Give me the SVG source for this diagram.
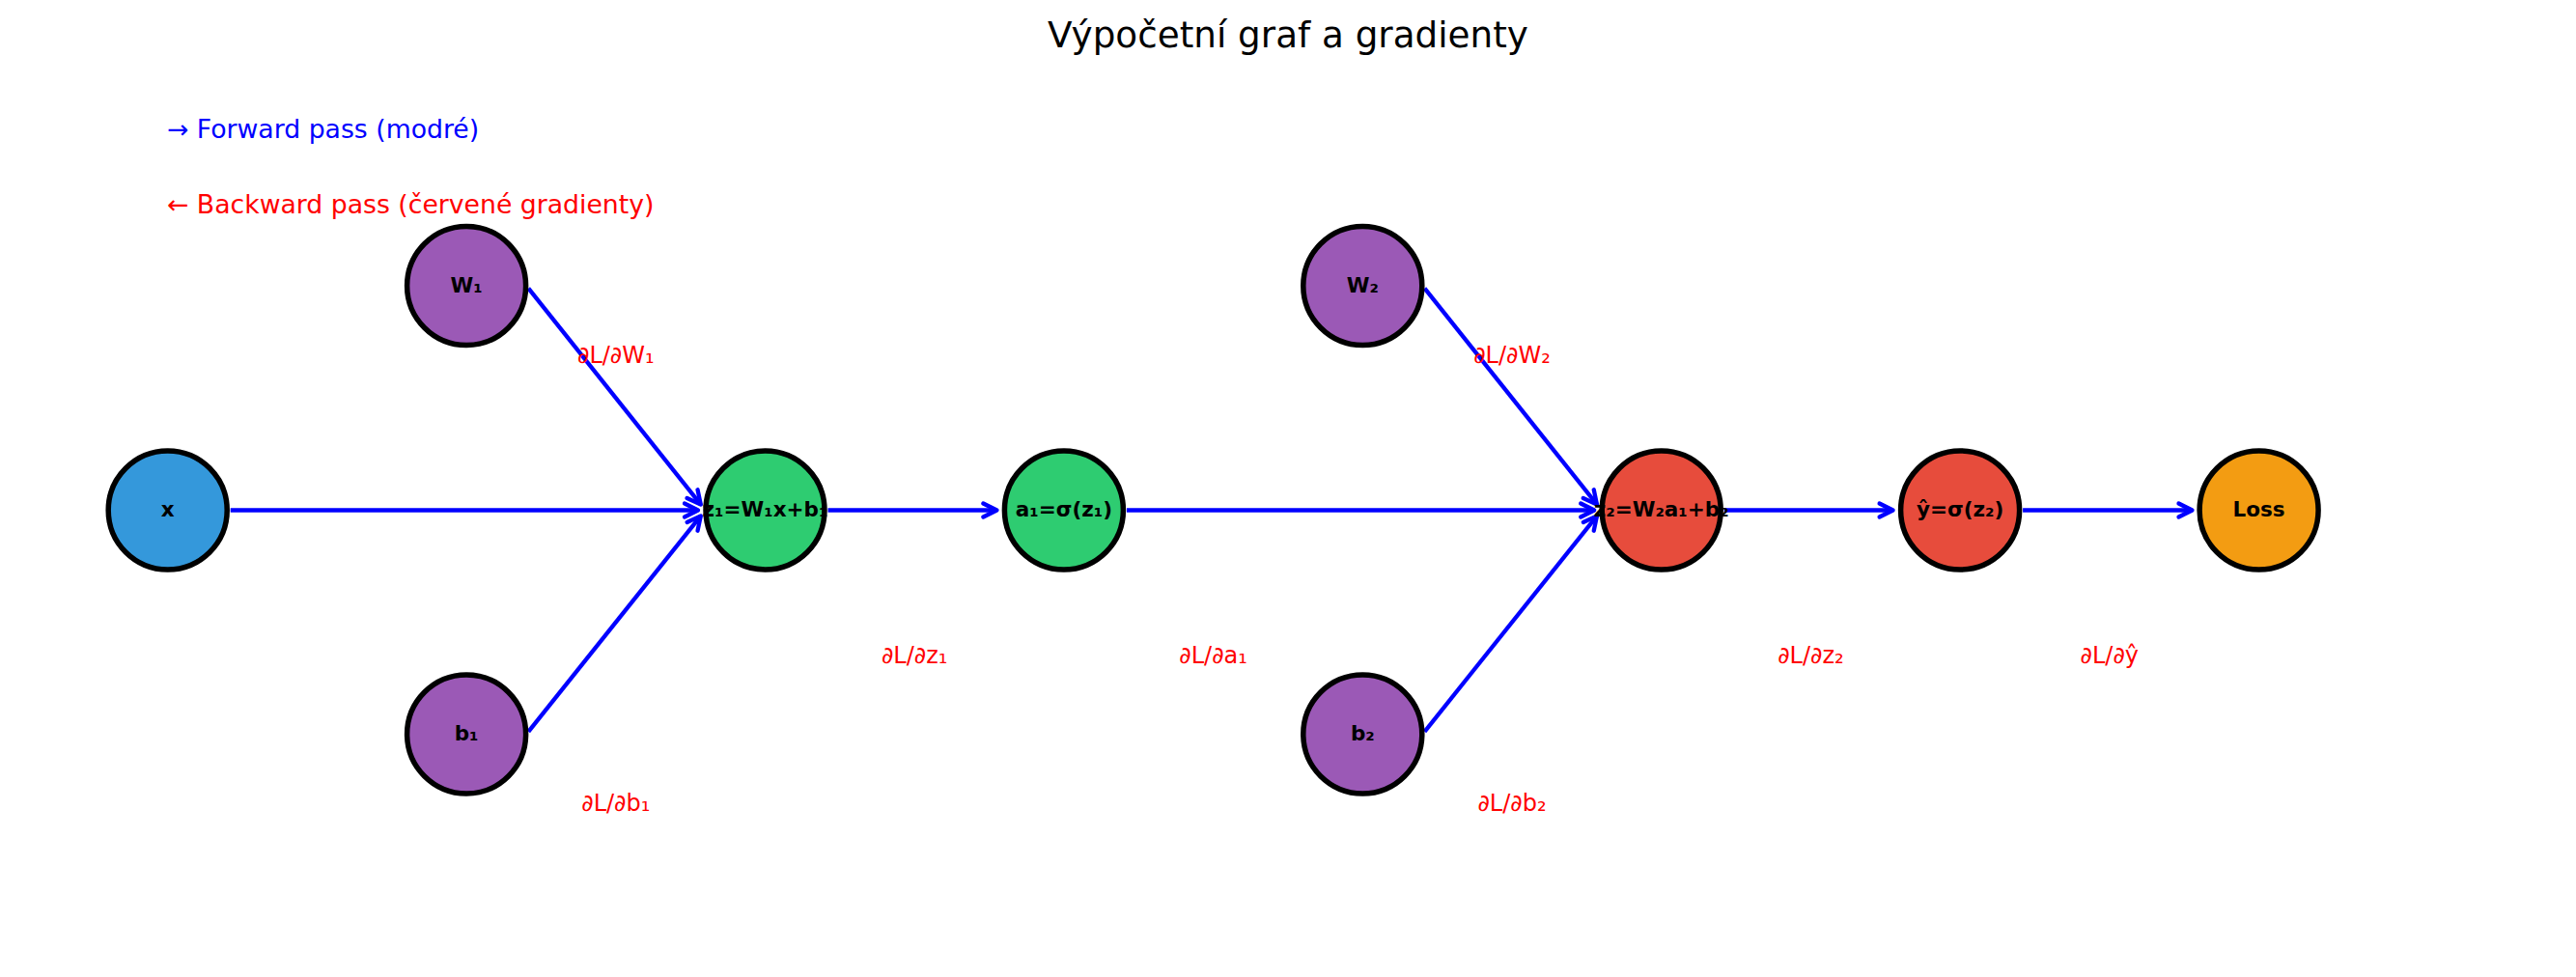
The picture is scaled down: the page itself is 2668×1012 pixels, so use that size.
<svg xmlns="http://www.w3.org/2000/svg" width="2668" height="1012" viewBox="0 0 2668 1012">
<style>
.node circle{stroke:#000;stroke-width:5.5}
.node text{font-family:"DejaVu Sans",sans-serif;font-weight:bold;font-size:21.5px;fill:#000;text-anchor:middle}
.edge{stroke:#0000ff;stroke-width:4.3;fill:none;marker-end:url(#ah)}
.grad{font-family:"DejaVu Sans",sans-serif;font-size:24px;fill:#ff0000;text-anchor:middle}
.title{font-family:"DejaVu Sans",sans-serif;font-size:37.3px;fill:#000;text-anchor:middle}
.legend{font-family:"DejaVu Sans",sans-serif;font-size:26.7px}
</style>
<defs>
<marker id="ah" markerUnits="userSpaceOnUse" orient="auto" refX="0" refY="0" markerWidth="40" markerHeight="40" viewBox="-20 -20 40 40" overflow="visible">
<path d="M-14,-7 L0,0 L-14,7" fill="none" stroke="#0000ff" stroke-width="4.3" stroke-linecap="round" stroke-linejoin="round"/>
</marker>
</defs>
<rect x="0" y="0" width="2668" height="1012" fill="#ffffff"/>
<text class="title" x="1334" y="48.7">Výpočetní graf a gradienty</text>
<text class="legend" x="173" y="143.3" fill="#0000ff">→ Forward pass (modré)</text>
<text class="legend" x="173" y="220.7" fill="#ff0000">← Backward pass (červené gradienty)</text>
<g id="connectors">
<line class="edge" x1="238.7" y1="528.5" x2="723" y2="528.5"/>
<line class="edge" x1="547.3" y1="298.7" x2="725.8" y2="522.6"/>
<line class="edge" x1="547.3" y1="757.8" x2="725.8" y2="534.4"/>
<line class="edge" x1="857.5" y1="528.5" x2="1032.4" y2="528.5"/>
<line class="edge" x1="1166.9" y1="528.5" x2="1651.2" y2="528.5"/>
<line class="edge" x1="1475.5" y1="298.7" x2="1654" y2="522.6"/>
<line class="edge" x1="1475.5" y1="757.8" x2="1654" y2="534.4"/>
<line class="edge" x1="1785.7" y1="528.5" x2="1960.6" y2="528.5"/>
<line class="edge" x1="2095.1" y1="528.5" x2="2270.5" y2="528.5"/>
</g>
<g id="n-x" class="node"><circle cx="173.7" cy="528.5" r="61.5" fill="#3498db"/><text x="173.7" y="535">x</text></g>
<g id="n-W1" class="node"><circle cx="483.1" cy="296" r="61.5" fill="#9b59b6"/><text x="483.1" y="302.5">W₁</text></g>
<g id="n-b1" class="node"><circle cx="483.1" cy="760.5" r="61.5" fill="#9b59b6"/><text x="483.1" y="767">b₁</text></g>
<g id="n-z1" class="node"><circle cx="792.5" cy="528.5" r="61.5" fill="#2ecc71"/><text x="792.5" y="535">z₁=W₁x+b₁</text></g>
<g id="n-a1" class="node"><circle cx="1101.9" cy="528.5" r="61.5" fill="#2ecc71"/><text x="1101.9" y="535">a₁=σ(z₁)</text></g>
<g id="n-W2" class="node"><circle cx="1411.3" cy="296" r="61.5" fill="#9b59b6"/><text x="1411.3" y="302.5">W₂</text></g>
<g id="n-b2" class="node"><circle cx="1411.3" cy="760.5" r="61.5" fill="#9b59b6"/><text x="1411.3" y="767">b₂</text></g>
<g id="n-z2" class="node"><circle cx="1720.7" cy="528.5" r="61.5" fill="#e74c3c"/><text x="1720.7" y="535">z₂=W₂a₁+b₂</text></g>
<g id="n-yhat" class="node"><circle cx="2030.1" cy="528.5" r="61.5" fill="#e74c3c"/><text x="2030.1" y="535">ŷ=σ(z₂)</text></g>
<g id="n-loss" class="node"><circle cx="2339.6" cy="528.5" r="61.5" fill="#f39c12"/><text x="2339.6" y="535">Loss</text></g>
<g id="gradients">
<text class="grad" x="637.8" y="376">∂L/∂W₁</text>
<text class="grad" x="637.8" y="840">∂L/∂b₁</text>
<text class="grad" x="947.2" y="686.5">∂L/∂z₁</text>
<text class="grad" x="1256.6" y="686.5">∂L/∂a₁</text>
<text class="grad" x="1566" y="376">∂L/∂W₂</text>
<text class="grad" x="1566" y="840">∂L/∂b₂</text>
<text class="grad" x="1875.4" y="686.5">∂L/∂z₂</text>
<text class="grad" x="2184.8" y="686.5">∂L/∂ŷ</text>
</g>
</svg>
